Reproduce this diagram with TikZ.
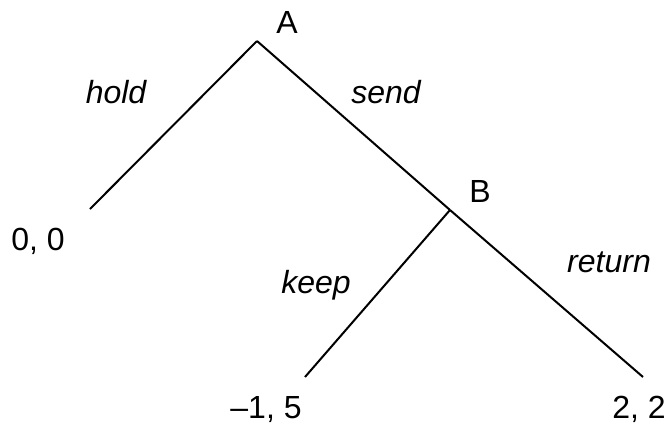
\documentclass[tikz,border=0pt]{standalone}
\usepackage{fontspec}
\setmainfont{Liberation Sans}
\begin{document}
\begin{tikzpicture}[x=1pt,y=-1pt,
  branch/.style={line width=2pt,line cap=butt},
  lbl/.style={font=\fontsize{32}{38}\selectfont,anchor=base,inner sep=0pt},
  act/.style={lbl,font=\fontsize{32}{38}\selectfont\itshape}]
\useasboundingbox (0,0) rectangle (672,432);
% decision points and outcomes
\coordinate (A) at (257,41);
\coordinate (B) at (450,210);
\coordinate (L0) at (90,209);
\coordinate (L1) at (305,377);
\coordinate (L2) at (643,377);
% branches
\draw[branch] (A) -- (L0);
\draw[branch] (A) -- (B);
\draw[branch] (B) -- (L1);
\draw[branch] (B) -- (L2);
% player labels
\node[lbl] (nA) at (287,33) {A};
\node[lbl] (nB) at (480,202) {B};
% payoffs
\node[lbl] (p0) at (38,250) {0, 0};
\node[lbl] (p1) at (266,418) {–1, 5};
\node[lbl] (p2) at (639,418) {2, 2};
% actions
\node[act] (hold) at (116,103) {hold};
\node[act] (send) at (386,103) {send};
\node[act] (keep) at (316,293) {keep};
\node[act] (ret) at (609,272) {return};
\end{tikzpicture}
\end{document}
